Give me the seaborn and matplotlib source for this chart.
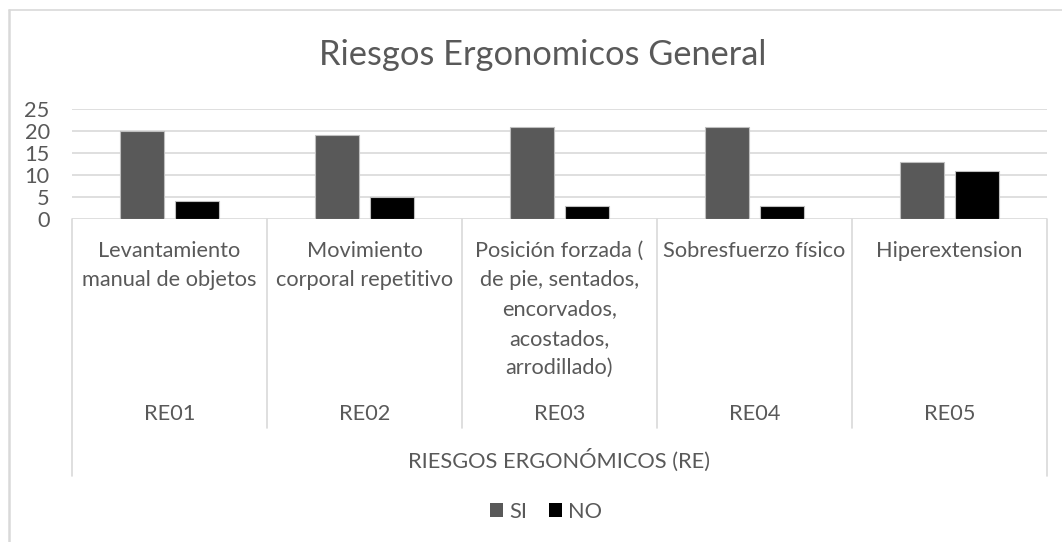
import numpy as np
import pandas as pd
import matplotlib
matplotlib.use("Agg")
import matplotlib.pyplot as plt
import seaborn as sns
from matplotlib.transforms import blended_transform_factory
from matplotlib.textpath import TextPath
from matplotlib.font_manager import FontProperties
from matplotlib.lines import Line2D

# ---- data ----
codes = ["RE01", "RE02", "RE03", "RE04", "RE05"]
categories = [
    "Levantamiento\nmanual de objetos",
    "Movimiento\ncorporal repetitivo",
    "Posición forzada (\nde pie, sentados,\nencorvados,\nacostados,\narrodillado)",
    "Sobresfuerzo físico",
    "Hiperextension",
]
si_values = [20, 19, 21, 21, 13]
no_values = [4, 5, 3, 3, 11]
series_names = ["SI", "NO"]
y_ticks = [0, 5, 10, 15, 20, 25]
title = "Riesgos Ergonomicos General"
group_label = "RIESGOS ERGONÓMICOS (RE)"

df = pd.DataFrame({
    "code": codes * 2,
    "value": si_values + no_values,
    "serie": [series_names[0]] * len(codes) + [series_names[1]] * len(codes),
})

sns.set_theme(style="white")
FAMILY = ["Lato", "DejaVu Sans"]
plt.rcParams["font.family"] = FAMILY
TXT = "#595959"
GRID = "#d9d9d9"

W, H = 1062, 542
fig = plt.figure(figsize=(W / 100, H / 100), dpi=100)
fig.patch.set_facecolor("white")


def fy(py):
    return 1 - py / H


def fit(text, px):
    fp = FontProperties(family=FAMILY, size=100)
    w = TextPath((0, 0), text, prop=fp).get_extents().width
    return 100 * 72 * px / (w * 100)


ax = fig.add_axes([72 / W, fy(219), 975 / W, 110 / H])

sns.barplot(data=df, x="code", y="value", hue="serie", hue_order=series_names,
            palette={"SI": "#595959", "NO": "#000000"}, saturation=1,
            width=0.564, gap=0.2, edgecolor="#bfbfbf", linewidth=0.8,
            ax=ax, legend=True)

ax.set_xlim(-0.5, len(codes) - 0.5)
ax.set_ylim(0, 25)
ax.set_yticks(y_ticks)
ax.set_xticks([])
ax.set_xlabel("")
ax.set_ylabel("")
for s in ax.spines.values():
    s.set_visible(False)
ax.yaxis.grid(True, color=GRID, lw=1.2)
ax.set_axisbelow(True)

fs = fit("manual de objetos", 172)
fs_title = fit(title, 441)
ax.tick_params(axis="y", length=0, labelsize=fs, labelcolor=TXT, pad=16)

tr = blended_transform_factory(ax.transData, fig.transFigure)
n = len(codes)
for k in range(n + 1):
    x = k - 0.5
    bottom = 476 if k in (0, n) else 428
    ax.plot([x, x], [fy(219), fy(bottom)], transform=tr, color=GRID, lw=1.2,
            clip_on=False)

for i, lab in enumerate(categories):
    for j, line in enumerate(lab.split("\n")):
        ax.text(i, fy(256.7 + 29.3 * j), line, transform=tr, ha="center",
                va="baseline", fontsize=fs, color=TXT)
    ax.text(i, fy(420.5), codes[i], transform=tr, ha="center", va="baseline",
            fontsize=fs, color=TXT)

ax.text((n - 1) / 2, fy(468), group_label, transform=tr, ha="center",
        va="baseline", fontsize=fs, color=TXT)

fig.text(542.5 / W, fy(65), title, ha="center", va="baseline",
         fontsize=fs_title, color=TXT)

handles, labels = ax.get_legend_handles_labels()
if ax.legend_ is not None:
    ax.legend_.remove()
em = fs * 100 / 72
leg = fig.legend(handles, labels, loc="center", bbox_to_anchor=(546 / W, fy(512)),
                 ncol=2, frameon=False, fontsize=fs, handlelength=13 / em,
                 handleheight=13 / em, handletextpad=0.3, columnspacing=1.0,
                 borderaxespad=0, borderpad=0)
for t in leg.get_texts():
    t.set_color(TXT)
for h in leg.legend_handles:
    h.set_edgecolor("none")

fig.add_artist(Line2D([8.5 / W, 8.5 / W], [fy(10), fy(600)], color=GRID, lw=1.8,
                      transform=fig.transFigure))
fig.add_artist(Line2D([8.5 / W, 1.2], [fy(10), fy(10)], color=GRID, lw=1.2,
                      transform=fig.transFigure))

fig.savefig("out.png", dpi=100, facecolor="white")
